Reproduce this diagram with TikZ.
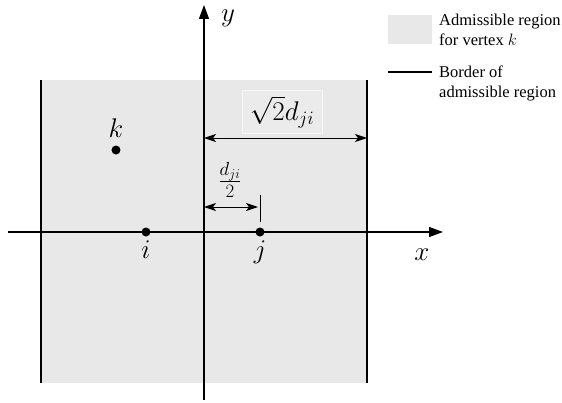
\RequirePackage{fix-cm}
\documentclass[tikz,border=0pt]{standalone}
\usepackage{fontspec}
\setmainfont{Liberation Serif}
\usepackage{xcolor}
\usetikzlibrary{arrows.meta, positioning, calc}
\definecolor{regiongray}{HTML}{E8E8E8}
\definecolor{boxgray}{HTML}{EBEBEB}
\definecolor{boxedge}{HTML}{F6F6F6}

\begin{document}
\begin{tikzpicture}[x=1pt, y=1pt,
    axis/.style={line width=1.3pt, -{Triangle[length=14pt, width=10pt]}},
    border/.style={line width=1.1pt},
    dimline/.style={line width=0.9pt, {Stealth[length=12pt, width=8pt, inset=3pt]}-{Stealth[length=12pt, width=8pt, inset=3pt]}},
    vertex/.style={circle, fill=black, minimum size=9pt, inner sep=0pt},
    lbl/.style={font=\fontsize{27}{32}\selectfont, inner sep=0pt},
    legendtext/.style={font=\fontsize{16.5}{20}\selectfont, align=left, anchor=north west, inner sep=0pt}]
    \useasboundingbox (-204,-170) rectangle (358,232);

    % admissible region and its border
    \fill[regiongray] (-163,-151) rectangle (163,152);
    \coordinate (bl) at (-163,-151);
    \coordinate (tl) at (-163,152);
    \coordinate (br) at (163,-151);
    \coordinate (tr) at (163,152);
    \draw[border] (bl) -- (tl);
    \draw[border] (br) -- (tr);

    % axes
    \coordinate (xs) at (-196,0);
    \coordinate (xe) at (239,0);
    \coordinate (ys) at (0,-168);
    \coordinate (ye) at (0,227);
    \draw[axis] (xs) -- (xe);
    \draw[axis] (ys) -- (ye);
    \node[lbl] (xlab) at (218,-23) {$x$};
    \node[lbl] (ylab) at (24,214) {$y$};

    % vertices
    \node[vertex] (i) at (-58,0) {};
    \node[vertex] (j) at (56,0) {};
    \node[vertex] (k) at (-88,82) {};
    \node[lbl] (ilab) at (-58,-18) {$i$};
    \node[lbl] (jlab) at (56,-20) {$j$};
    \node[lbl] (klab) at (-88,104) {$k$};

    % distances
    \coordinate (wl) at (0,94);
    \coordinate (wr) at (163,94);
    \draw[dimline] (wl) -- (wr);
    \node[lbl, fill=boxgray, draw=boxedge, minimum width=80pt, minimum height=43pt] (wlab) at (78,120) {$\sqrt{2}d_{ji}$};
    \coordinate (hl) at (0,25);
    \coordinate (hr) at (54,25);
    \draw[dimline] (hl) -- (hr);
    \coordinate (tick1) at (56,10);
    \coordinate (tick2) at (56,37);
    \draw[line width=0.8pt] (tick1) -- (tick2);
    \node[lbl] (hlab) at (26,52) {$\frac{d_{ji}}{2}$};

    % legend
    \fill[regiongray] (184,188) rectangle (228,217) coordinate (lega);
    \node[legendtext] (legatext) at (235,218) {Admissible region\\for vertex $k$};
    \coordinate (legb1) at (184,160);
    \coordinate (legb2) at (228,160);
    \draw[border] (legb1) -- (legb2);
    \node[legendtext] (legbtext) at (235,166) {Border of\\admissible region};
\end{tikzpicture}
\end{document}
